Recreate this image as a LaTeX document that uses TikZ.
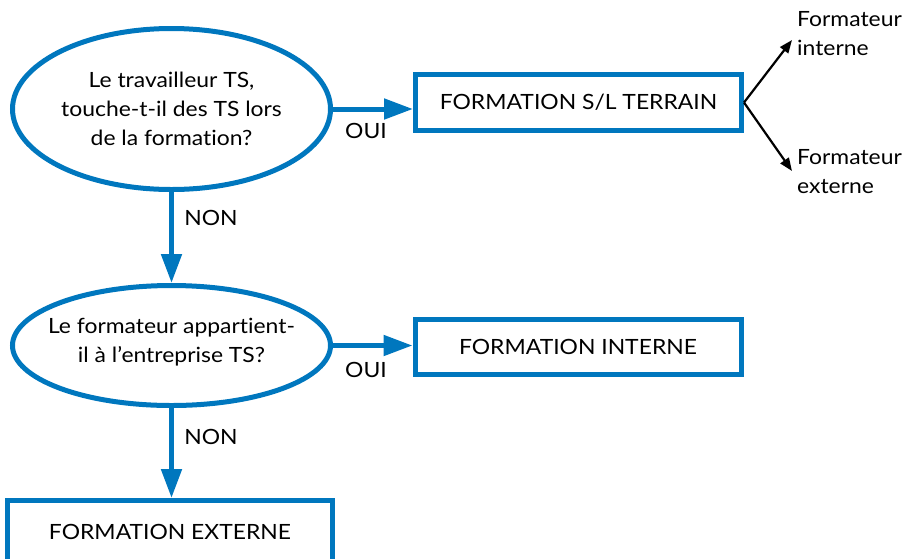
\documentclass[tikz,border=0pt]{standalone}
\usepackage{fontspec}
\setmainfont{Lato}[Ligatures=NoCommon, FakeStretch=1.09]
\usetikzlibrary{arrows.meta,shapes.geometric}
\definecolor{fblue}{RGB}{0,119,190}
\begin{document}
\begin{tikzpicture}[x=1pt,y=-1pt,
  txt/.style={font=\fontsize{21}{29}\selectfont, text=black},
  question/.style={ellipse, draw=fblue, line width=5pt, inner sep=0pt, minimum width=318pt},
  qtext/.style={txt, align=center, inner sep=0pt},
  outcome/.style={rectangle, draw=fblue, line width=5pt, inner sep=0pt, txt, minimum width=326pt, minimum height=56pt},
  flow/.style={draw=fblue, line width=5pt, -{Triangle[length=29pt,width=20pt]}},
  choice/.style={draw=black, line width=2.2pt, -{Triangle[length=13pt,width=10pt]}},
  lbl/.style={txt, inner sep=0pt},
  side/.style={txt, inner sep=0pt, anchor=west, align=left}
]
\useasboundingbox (0,0) rectangle (910,558);

\node[question, minimum height=161pt] (e1) at (171.5,109) {};
\node[qtext] (q1) at (e1.center) {Le travailleur TS,\\touche-t-il des TS lors\\de la formation?};
\node[outcome] (b1) at (578.5,102.5) {FORMATION S/L TERRAIN};
\node[question, minimum height=120pt] (e2) at (171.5,345.5) {};
\node[qtext] (q2) at ([yshift=3pt]e2.center) {Le formateur appartient-\\il à l’entreprise TS?};
\node[outcome, minimum height=55pt] (b2) at (578,347) {FORMATION INTERNE};
\node[outcome, minimum width=325pt, minimum height=63pt] (b3) at (170,532) {FORMATION EXTERNE};

\draw[flow] (e1.east) -- (e1.east -| b1.west);
\draw[flow] (e1.south) -- (e2.north);
\draw[flow] (e2.east) -- (e2.east -| b2.west);
\draw[flow] (e2.south) -- (b3.north -| e2.south);

\node[lbl] (oui1) at (366,131) {OUI};
\node[lbl] (non1) at (211,218) {NON};
\node[lbl] (oui2) at (366,370) {OUI};
\node[lbl] (non2) at (211,437) {NON};

\coordinate (t1) at (792,40);
\coordinate (t2) at (792,171);
\draw[choice] (b1.east) -- (t1);
\draw[choice] (b1.east) -- (t2);
\node[side] (f1) at (797,34) {Formateur\\interne};
\node[side] (f2) at (797,171.5) {Formateur\\externe};
\end{tikzpicture}
\end{document}
